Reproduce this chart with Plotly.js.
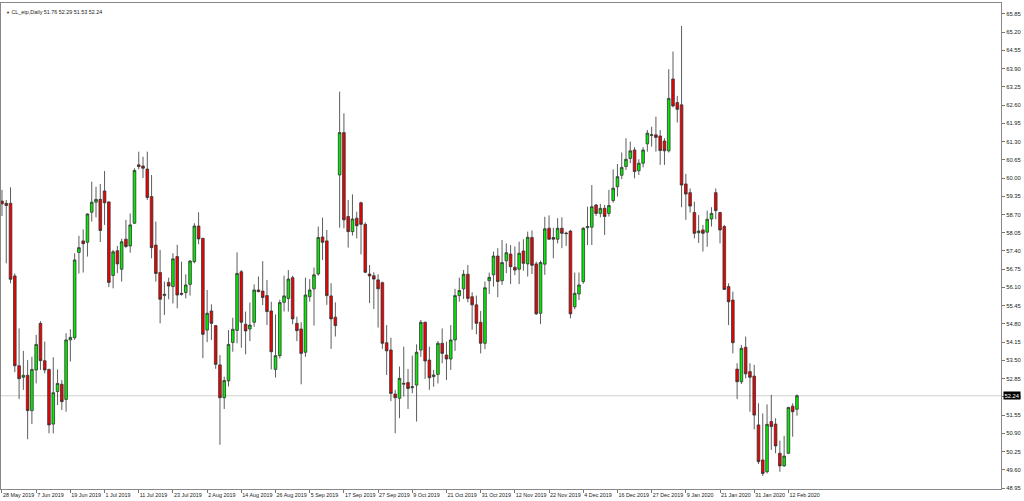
<!DOCTYPE html>
<html>
<head>
<meta charset="utf-8">
<script src="https://cdn.plot.ly/plotly-3.0.1.min.js"></script>
<style>html,body{margin:0;padding:0;background:#fff;}#chart{width:1024px;height:501px;}</style>
</head>
<body>
<div id="chart"></div>
<script>
// ---- data ----
const symbolTitle = "CL_etp,Daily";
const firstDate = "2019-05-28";
const holidays = ["2019-12-25", "2020-01-01"];
const openP = [59.18,59.10,59.10,56.51,53.31,52.90,52.97,51.71,53.16,54.82,53.49,53.18,51.23,52.39,52.65,52.11,54.23,54.31,57.35,57.76,
57.71,58.78,59.14,59.24,59.54,59.15,56.53,57.41,56.75,57.82,57.58,58.39,60.47,60.43,60.32,59.34,57.61,56.63,55.81,56.28,
56.13,57.20,55.89,55.92,56.21,57.02,58.29,57.85,54.58,55.26,54.74,53.34,52.17,52.77,54.14,54.57,56.66,54.79,54.62,54.86,
56.01,55.97,55.81,55.26,53.18,53.67,55.57,55.71,56.45,54.82,54.62,53.79,55.77,56.05,56.58,57.90,57.76,55.80,55.04,60.11,
61.62,58.63,58.09,58.57,59.12,58.35,56.58,56.52,56.37,56.27,54.13,53.87,52.30,52.15,52.65,52.71,52.53,52.62,53.87,54.86,
53.51,52.92,53.00,54.11,53.69,53.55,54.23,55.81,56.05,56.57,55.77,55.48,54.86,54.11,56.34,56.55,57.22,56.34,57.05,57.29,
56.82,56.75,57.40,56.94,57.88,56.94,55.18,56.93,58.21,57.88,57.82,58.21,58.04,58.11,55.41,55.87,56.31,58.23,58.25,59.04,
58.74,58.92,58.74,59.20,59.69,60.10,60.41,60.70,61.00,60.26,60.53,61.22,61.52,61.54,61.50,61.32,60.97,63.53,62.69,62.61,
59.79,59.48,58.77,58.05,58.15,58.07,58.54,59.48,58.77,58.27,56.13,55.65,53.19,52.74,53.97,53.10,52.94,51.20,49.95,49.53,
51.32,51.23,50.19,49.74,50.19,51.87,51.76];
const highP = [59.58,59.22,59.67,56.60,54.64,53.84,53.51,53.63,54.41,54.90,54.17,53.20,53.61,53.18,52.80,54.47,54.61,57.32,57.94,58.17,
58.74,59.87,59.69,59.79,60.25,59.17,57.44,57.58,57.84,58.51,58.74,60.35,60.94,60.76,60.94,60.11,58.45,57.44,56.31,56.45,
57.32,57.62,57.02,56.57,57.08,58.39,58.78,57.87,56.01,55.50,54.76,53.69,52.92,54.58,55.02,57.35,56.72,55.24,55.56,56.21,
56.49,57.04,56.37,55.59,55.14,55.66,56.52,56.72,56.52,55.06,54.86,56.45,56.40,56.81,58.27,58.59,58.15,56.25,55.57,63.08,
62.31,59.22,59.42,58.80,59.16,58.42,56.90,56.64,56.57,56.31,54.76,54.31,52.45,53.28,53.99,53.19,53.67,54.07,54.94,54.88,
53.99,53.16,54.19,54.64,54.17,54.76,56.05,56.45,56.72,56.90,55.93,55.81,55.26,56.31,56.63,57.38,57.50,57.79,57.67,57.61,
57.56,57.73,57.82,58.09,58.13,57.02,57.06,58.62,58.67,58.23,58.57,58.60,58.09,58.15,56.63,56.63,58.25,58.98,59.75,59.08,
59.08,59.04,59.58,60.31,60.50,60.91,61.42,61.30,61.10,60.67,61.10,61.71,61.83,62.19,61.71,61.42,63.88,64.51,62.93,65.42,
60.15,59.63,59.16,58.68,58.33,58.84,58.96,59.63,58.80,58.33,56.25,55.95,53.40,54.05,54.35,53.40,53.34,51.97,51.61,51.93,
52.27,51.44,50.64,50.81,51.85,51.97,52.29];
const lowP = [58.65,56.96,56.25,53.08,52.12,52.45,50.69,51.23,52.68,53.16,53.04,50.90,50.90,51.91,51.73,51.67,53.46,54.23,56.60,56.63,
57.20,58.45,58.60,57.72,58.33,56.11,56.07,56.61,56.31,57.50,57.34,58.37,60.31,60.00,59.22,57.14,56.31,54.82,55.12,55.68,
55.53,55.36,55.81,55.71,55.81,56.96,57.64,53.58,54.15,54.23,53.20,50.49,51.77,52.57,53.81,54.11,53.95,53.72,54.19,54.70,
55.93,55.47,54.76,53.18,52.89,53.57,55.24,55.24,54.79,54.19,52.65,53.63,55.59,54.74,56.52,57.08,55.48,53.91,54.35,58.23,
58.21,57.52,57.95,57.85,57.28,56.61,55.54,55.33,54.67,53.91,52.98,52.05,50.90,51.44,52.21,51.77,52.33,51.32,53.63,52.84,
52.45,52.56,52.68,53.40,52.80,53.16,53.84,55.59,55.69,55.57,54.59,54.43,53.75,53.90,55.87,56.13,55.75,56.19,56.61,56.22,
56.54,56.22,56.70,56.49,56.58,55.12,54.80,56.55,57.79,57.14,57.67,57.50,57.58,55.00,55.32,55.65,56.23,57.61,57.61,58.65,
58.60,57.97,58.63,59.12,59.34,59.96,60.29,60.53,59.99,60.11,60.38,60.94,61.12,60.94,60.47,60.47,60.91,62.52,61.98,58.96,
58.51,58.77,57.85,57.69,57.38,57.55,58.27,58.53,57.67,56.01,54.76,53.75,52.12,52.66,52.86,51.67,51.04,49.81,49.38,49.47,
50.31,50.19,49.53,49.71,50.16,50.78,51.53];
const closeP = [59.08,59.02,56.39,53.31,52.85,52.97,51.71,53.18,54.07,53.49,53.16,51.20,52.35,52.68,52.03,54.23,54.32,57.08,57.52,57.66,
58.72,59.14,59.24,58.13,59.12,56.28,57.37,56.94,57.73,57.56,58.33,60.27,60.41,60.35,59.31,57.52,56.60,55.68,55.86,56.15,
57.12,55.83,55.86,56.19,57.04,58.29,57.83,54.43,55.18,54.82,53.36,52.17,52.78,54.07,54.61,56.60,54.86,54.55,54.76,56.01,
55.95,55.74,55.24,53.81,53.67,55.56,55.80,56.40,54.98,54.56,53.75,55.83,56.01,56.55,57.88,57.71,55.81,54.98,54.74,61.62,
58.51,58.09,58.54,58.30,58.35,56.64,56.51,56.40,56.05,54.11,53.84,52.32,52.17,52.86,52.68,52.50,52.56,53.79,54.86,53.48,
52.88,52.98,54.11,53.75,53.55,54.23,55.81,55.99,56.57,55.71,55.48,54.82,54.11,56.09,56.46,57.22,56.31,56.99,57.34,56.84,
56.72,57.32,56.96,57.89,56.89,55.16,56.99,58.19,57.82,57.82,58.21,58.03,58.02,55.16,55.89,56.19,58.21,58.27,58.98,58.74,
58.92,58.63,59.02,59.64,60.05,60.38,60.67,60.97,60.23,60.53,61.00,61.60,61.54,61.45,60.98,60.97,62.84,62.57,62.45,59.75,
59.43,59.00,58.03,58.11,58.03,58.53,58.74,58.84,58.15,56.03,55.59,54.13,52.74,53.93,53.02,52.90,51.55,49.89,49.47,51.22,
51.14,50.45,49.74,50.09,51.82,51.67,52.24];
const lastPrice = 52.24;
const priceTicks = {first: 48.95, step: 0.65};
const monthNames = ["Jan","Feb","Mar","Apr","May","Jun","Jul","Aug","Sep","Oct","Nov","Dec"];

// ---- trading-day categories (weekdays, minus exchange holidays) ----
function iso(d){return d.toISOString().slice(0,10);}
const dates = [];
{
  let d = new Date(firstDate + "T00:00:00Z");
  while (dates.length < openP.length) {
    const wd = d.getUTCDay();
    const s = iso(d);
    if (wd !== 0 && wd !== 6 && holidays.indexOf(s) < 0) dates.push(s);
    d = new Date(d.getTime() + 86400000);
  }
}
function fmt(s){const p=s.split("-");return (+p[2])+" "+monthNames[+p[1]-1]+" "+p[0];}
const tickVals = dates.filter((d,i)=>i%8===0);
const tickText = tickVals.map(fmt);

const trace = {
  type: "candlestick",
  x: dates, open: openP, high: highP, low: lowP, close: closeP,
  increasing: {line: {color: "#333333", width: 0.8}, fillcolor: "#00ee00"},
  decreasing: {line: {color: "#333333", width: 0.8}, fillcolor: "#f00000"},
  whiskerwidth: 0,
  hoverinfo: "skip",
  showlegend: false
};

const fam = "Liberation Sans, Arial, sans-serif";
const xFont = {family: fam, size: 5.4, color: "#222"};
const yFont = {family: fam, size: 5.8, color: "#222"};

const layout = {
  width: 1024, height: 501,
  margin: {l: 1, r: 23, t: 3, b: 12, pad: 0},
  paper_bgcolor: "#ffffff", plot_bgcolor: "#ffffff",
  showlegend: false,
  boxgap: 0.12,
  xaxis: {
    type: "category",
    range: [-0.23, 233.74],
    rangeslider: {visible: false},
    tickmode: "array", tickvals: tickVals, ticktext: tickText,
    tickangle: 0,
    ticks: "outside", ticklen: 3, tickcolor: "#777", tickwidth: 1,
    ticklabelposition: "outside right",
    ticklabelstandoff: 1,
    tickfont: xFont,
    showgrid: false, zeroline: false,
    showline: true, linecolor: "#888", linewidth: 1, mirror: true,
    fixedrange: true
  },
  yaxis: {
    side: "right",
    range: [48.916, 66.24],
    tick0: priceTicks.first, dtick: priceTicks.step,
    tickformat: ".2f",
    ticks: "outside", ticklen: 3, tickcolor: "#777",
    tickfont: yFont,
    showgrid: false, zeroline: false,
    showline: true, linecolor: "#888", linewidth: 1, mirror: true,
    fixedrange: true
  },
  shapes: [{
    type: "line", xref: "paper", x0: 0, x1: 1, yref: "y", y0: lastPrice, y1: lastPrice,
    line: {color: "#d0d0d0", width: 1}, layer: "below"
  }],
  annotations: [
    {xref: "paper", yref: "y", x: 1, y: lastPrice, xanchor: "left", yanchor: "middle",
     text: lastPrice.toFixed(2), showarrow: false, xshift: 2,
     bgcolor: "#000", borderpad: 0.5, font: {family: fam, size: 5.8, color: "#fff"}},
    {xref: "paper", yref: "paper", x: 0, y: 1, xanchor: "left", yanchor: "top",
     xshift: 3, yshift: -4, showarrow: false, align: "left",
     text: "<span style='font-size:4px'>▼</span> " + symbolTitle + " " +
           [openP[openP.length-1], highP[highP.length-1], lowP[lowP.length-1], closeP[closeP.length-1]].map(v=>v.toFixed(2)).join(" "),
     font: {family: fam, size: 5.4, color: "#222"}}
  ]
};

Plotly.newPlot("chart", [trace], layout, {displayModeBar: false, staticPlot: true});
</script>
</body>
</html>
